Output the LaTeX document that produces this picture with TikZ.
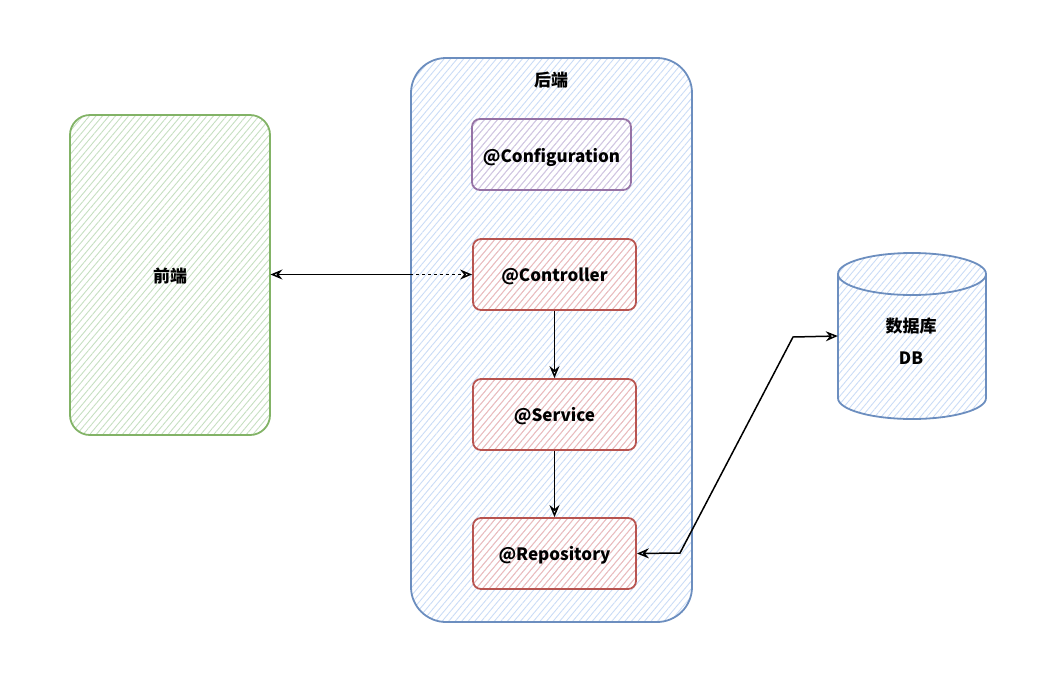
\documentclass[tikz,border=0pt]{standalone}
\usepackage{fontspec}
\setmainfont{Noto Sans CJK SC}
\usetikzlibrary{patterns.meta,arrows.meta}
\definecolor{gstroke}{HTML}{82B366}
\definecolor{ghatch}{HTML}{C6DFC1}
\definecolor{bstroke}{HTML}{6C8EBF}
\definecolor{bhatch}{HTML}{CADCF6}
\definecolor{pstroke}{HTML}{9673A6}
\definecolor{phatch}{HTML}{D6C5DF}
\definecolor{rstroke}{HTML}{B85450}
\definecolor{rhatch}{HTML}{F2BAB7}
\tikzset{
  hatch/.style={pattern={Lines[angle=50,distance=5pt,line width=0.9pt]},pattern color=#1},
  box/.style={rectangle,line width=1.8pt,inner sep=0pt},
  frontbox/.style={box,draw=gstroke,hatch=ghatch,rounded corners=20pt,minimum width=200pt,minimum height=320pt},
  backbox/.style={box,draw=bstroke,hatch=bhatch,rounded corners=35pt,minimum width=281pt,minimum height=564pt},
  confbox/.style={box,draw=pstroke,hatch=phatch,rounded corners=8pt,minimum width=159pt,minimum height=71pt},
  compbox/.style={box,draw=rstroke,hatch=rhatch,rounded corners=8pt,minimum width=163pt,minimum height=71pt},
  lbl/.style={font=\fontsize{17}{20}\selectfont\bfseries,text=black},
  conn/.style={line width=1.5pt,draw=black,>={Stealth[open,length=12pt,width=10pt,inset=4pt]}},
}
\begin{document}
\begin{tikzpicture}[x=1pt,y=-1pt]
\useasboundingbox (0,0) rectangle (1061,697);
% frontend
\node[frontbox] (front) at (170,275) {};
\node[lbl] (frontl) at (170,276) {前端};
% backend container
\node[backbox] (back) at (551.5,340) {};
\node[lbl] (backl) at (551,80) {后端};
% components
\node[confbox] (conf) at (551.5,154.5) {};
\node[lbl] (confl) at (551.5,157) {@Configuration};
\node[compbox] (ctrl) at (554.5,274.5) {};
\node[lbl] (ctrll) at (554.5,276) {@Controller};
\node[compbox] (serv) at (554.5,414.5) {};
\node[lbl] (servl) at (554.5,416) {@Service};
\node[compbox] (repo) at (554.5,553.5) {};
\node[lbl] (repol) at (554.5,555) {@Repository};
% database cylinder
\node[rectangle,minimum width=148pt,minimum height=166pt,inner sep=0pt] (db) at (912,336) {};
\fill[hatch=bhatch] (838,274) -- (838,398) arc[start angle=180,end angle=0,x radius=74,y radius=21]
  -- (986,274) arc[start angle=0,end angle=-180,x radius=74,y radius=21] -- cycle;
\draw[line width=1.8pt,draw=bstroke] (838,274) -- (838,398) arc[start angle=180,end angle=0,x radius=74,y radius=21]
  -- (986,274) arc[start angle=0,end angle=-180,x radius=74,y radius=21] -- cycle;
\draw[line width=1.8pt,draw=bstroke] (838,274) arc[start angle=180,end angle=0,x radius=74,y radius=21];
\node[lbl,align=center] (dbl) at (911,341) {数据库\\[12pt]DB};
% connectors
\coordinate (bend) at (back.west |- ctrl.west);
\draw[conn,<-] (front.east |- ctrl.west) -- (bend);
\draw[conn,dashed,->] (bend) -- (ctrl.west);
\draw[conn,->] (ctrl.south) -- (serv.north);
\draw[conn,->] (serv.south) -- (repo.north);
\coordinate (k1) at (680,553);
\coordinate (k2) at (793,337);
\draw[conn,<->] (repo.east) -- (k1) -- (k2) -- (db.west);
\end{tikzpicture}
\end{document}
